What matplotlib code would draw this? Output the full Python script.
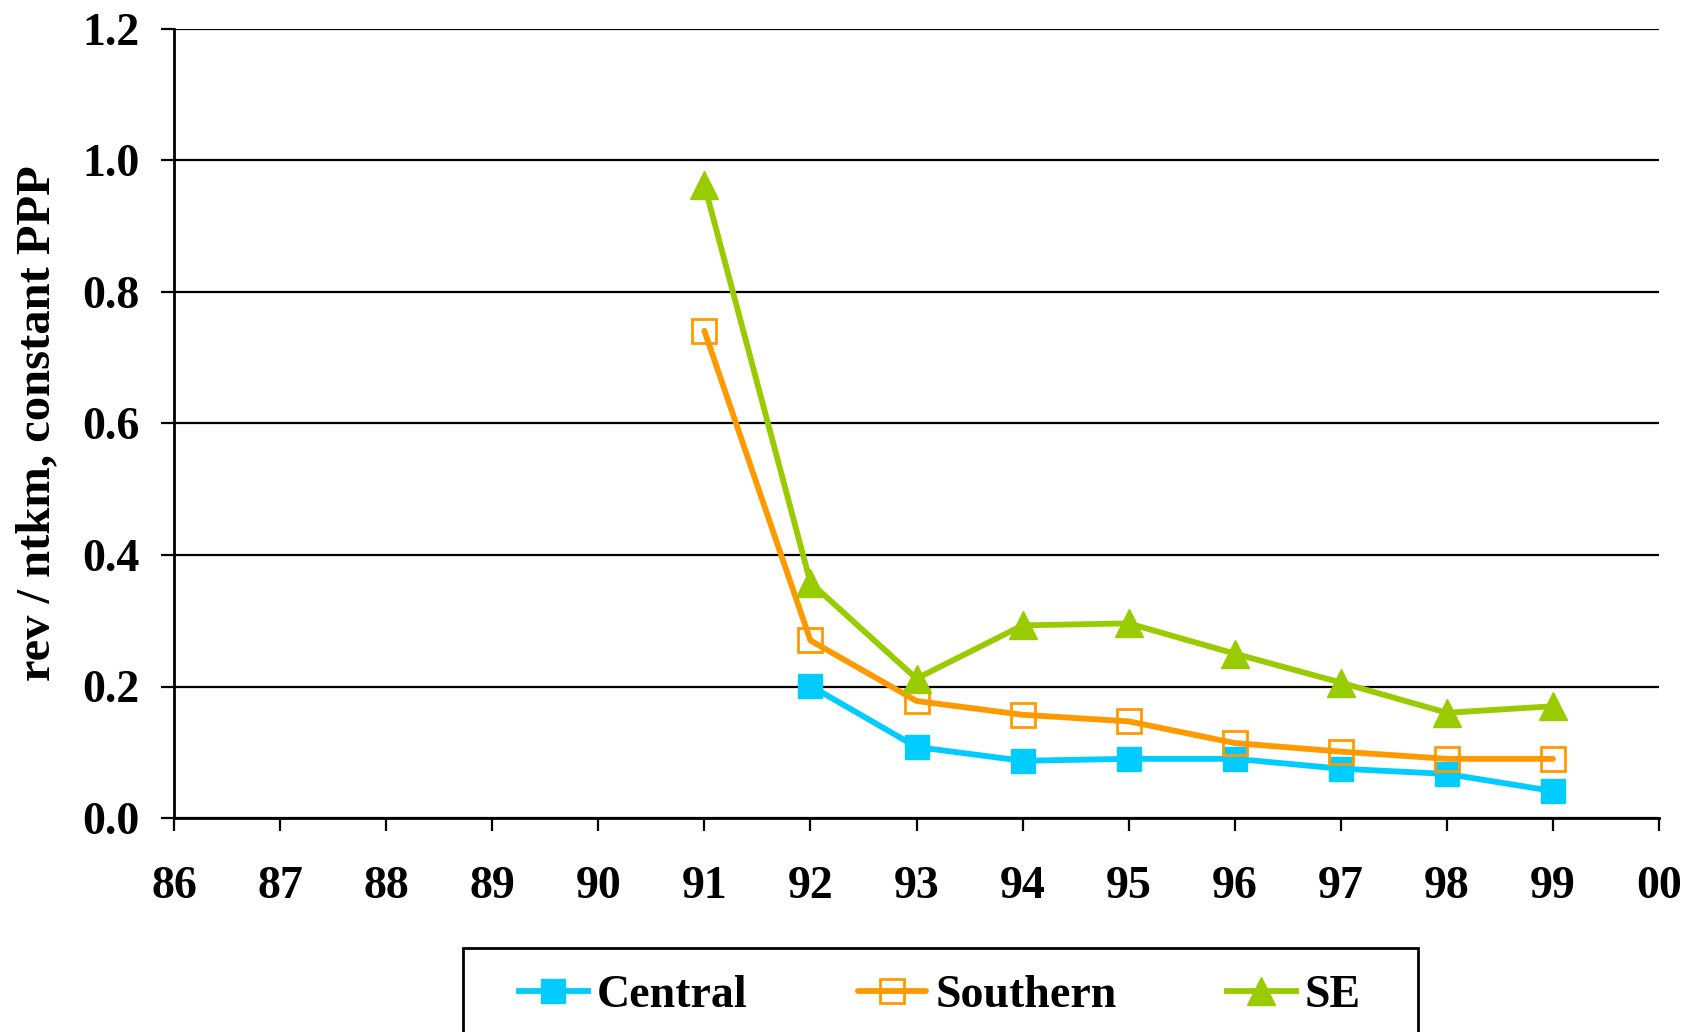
import matplotlib
matplotlib.use("Agg")
import matplotlib.pyplot as plt
from matplotlib.patches import Rectangle
import numpy as np

years = [86, 87, 88, 89, 90, 91, 92, 93, 94, 95, 96, 97, 98, 99, 100]
year_labels = ["86", "87", "88", "89", "90", "91", "92", "93", "94", "95", "96", "97", "98", "99", "00"]

central_years = [92, 93, 94, 95, 96, 97, 98, 99]
central = [0.201, 0.108, 0.087, 0.090, 0.090, 0.075, 0.067, 0.041]

southern_years = [91, 92, 93, 94, 95, 96, 97, 98, 99]
southern = [0.741, 0.270, 0.178, 0.157, 0.147, 0.114, 0.101, 0.090, 0.090]

se_years = [91, 92, 93, 94, 95, 96, 97, 98, 99]
se = [0.963, 0.358, 0.212, 0.293, 0.296, 0.250, 0.206, 0.160, 0.170]

yticks = [0.0, 0.2, 0.4, 0.6, 0.8, 1.0, 1.2]

plt.rcParams['font.family'] = ['Liberation Serif', 'DejaVu Serif']
plt.rcParams['font.weight'] = 'bold'

W, H = 1685, 1032
fig = plt.figure(figsize=(W / 100, H / 100), dpi=100)
ax = fig.add_axes([174 / W, 1 - 818 / H, (1659 - 174) / W, (818 - 29) / H])

c_col = '#00CCFF'
s_col = '#FF9900'
e_col = '#99CC00'

ax.plot(central_years, central, color=c_col, lw=4.2, marker='s', ms=17,
        mfc=c_col, mec=c_col, label='Central', zorder=3)
ax.plot(southern_years, southern, color=s_col, lw=4.2, marker='s', ms=17,
        mfc='none', mec=s_col, mew=2, label='Southern', zorder=4, solid_capstyle='round')
ax.plot(se_years, se, color=e_col, lw=4.2, marker='^', ms=20,
        mfc=e_col, mec=e_col, label='SE', zorder=5)

ax.set_xlim(86, 100)
ax.set_ylim(0, 1.2)
ax.set_xticks(years)
ax.set_xticklabels(year_labels)
ax.set_yticks(yticks)
ax.set_yticklabels([f"{v:.1f}" for v in yticks])
ax.yaxis.grid(True, color='black', lw=1.6)
ax.set_axisbelow(True)

for s in ['top', 'right']:
    ax.spines[s].set_visible(False)
for s in ['left', 'bottom']:
    ax.spines[s].set_linewidth(2)
    ax.spines[s].set_color('black')

ax.tick_params(axis='both', direction='out', length=9.5, width=1.6, labelsize=33)
ax.tick_params(axis='y', pad=15)
ax.tick_params(axis='x', pad=25)
for lab in ax.get_xticklabels() + ax.get_yticklabels():
    lab.set_fontweight('bold')

ax.set_ylabel('rev / ntkm, constant PPP', fontsize=35, fontweight='bold')
ax.yaxis.set_label_coords(-0.077, 0.5)

# legend frame
fig.patches.append(Rectangle((463 / W, -0.05), (1418 - 463) / W, 0.05 + 1 - 948 / H,
                             transform=fig.transFigure, fill=False,
                             edgecolor='black', lw=2, zorder=1))

leg = fig.legend(loc='upper left', bbox_to_anchor=(519 / W, 1 - 975 / H), ncol=3,
                 frameon=False, borderaxespad=0, borderpad=0,
                 prop={'size': 33, 'weight': 'bold'}, handlelength=1.5,
                 columnspacing=2.4, handletextpad=0.2)

fig.savefig('out.png', dpi=100, facecolor='white')
